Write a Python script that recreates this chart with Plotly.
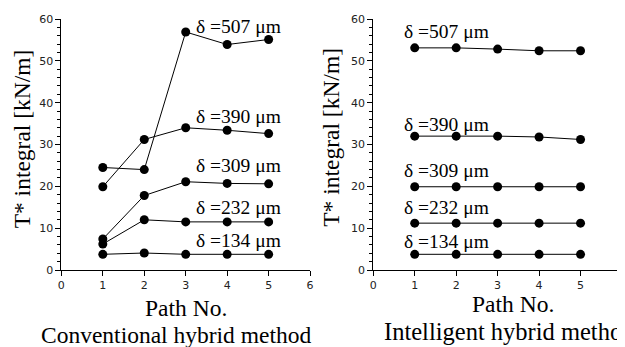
import plotly.graph_objects as go

paths = [1, 2, 3, 4, 5]
deltas = ["134", "232", "309", "390", "507"]

conv_134 = [3.75, 4.06, 3.75, 3.75, 3.75]
conv_232 = [6.2, 12.0, 11.5, 11.5, 11.5]
conv_309 = [7.4, 17.8, 21.1, 20.7, 20.6]
conv_390 = [19.9, 31.2, 34.0, 33.4, 32.6]
conv_507 = [24.5, 24.0, 56.9, 53.9, 55.1]

intel_134 = [3.75, 3.75, 3.75, 3.75, 3.75]
intel_232 = [11.2, 11.2, 11.2, 11.2, 11.2]
intel_309 = [19.9, 19.9, 19.9, 19.9, 19.9]
intel_390 = [32.0, 32.0, 32.0, 31.8, 31.2]
intel_507 = [53.1, 53.1, 52.8, 52.4, 52.4]

conv_series = [conv_134, conv_232, conv_309, conv_390, conv_507]
intel_series = [intel_134, intel_232, intel_309, intel_390, intel_507]

x_ticks = [0, 1, 2, 3, 4, 5, 6]
y_ticks = [0, 10, 20, 30, 40, 50, 60]

OFF = 8  # page body margin
W, H = 625 - OFF, 347 - OFF
TOP, BOT = 19 - OFF, 270 - OFF
def px(xp):
    return (xp - OFF) / W
def py(yp):
    return (BOT - (yp - OFF)) / (BOT - TOP)

serif = "Liberation Serif"
sans = "DejaVu Sans"

fig = go.Figure()
for s in conv_series:
    fig.add_trace(go.Scatter(x=paths, y=s, mode="lines+markers", xaxis="x", yaxis="y",
                             line=dict(color="black", width=1),
                             marker=dict(color="black", size=9), showlegend=False))
for s in intel_series:
    fig.add_trace(go.Scatter(x=paths, y=s, mode="lines+markers", xaxis="x2", yaxis="y2",
                             line=dict(color="black", width=1),
                             marker=dict(color="black", size=9), showlegend=False))

xcommon = dict(showgrid=False, zeroline=False, showline=True, linecolor="black", linewidth=1,
               ticks="outside", ticklen=5, tickwidth=1, tickcolor="black",
               tickvals=x_ticks, ticktext=[str(v) for v in x_ticks],
               tickfont=dict(family=sans, size=11, color="#222"))
ycommon = dict(showgrid=False, zeroline=False, showline=True, linecolor="black", linewidth=1,
               ticks="outside", ticklen=5, tickwidth=1, tickcolor="black",
               tickvals=y_ticks, ticktext=[str(v) for v in y_ticks], range=[0, 60],
               minor=dict(dtick=2, ticks="outside", ticklen=3, tickcolor="black", tickwidth=1),
               tickfont=dict(family=sans, size=11, color="#222"))

fig.update_layout(
    width=W, height=H, margin=dict(l=0, r=0, t=TOP, b=H - BOT),
    paper_bgcolor="white", plot_bgcolor="white",
    xaxis=dict(domain=[px(58), px(310)], range=[0, 6], anchor="y", **xcommon),
    yaxis=dict(domain=[0, 1], anchor="x", **ycommon),
    xaxis2=dict(domain=[px(374), 1], range=[0, (625 - 374) / 42.0], anchor="y2", **xcommon),
    yaxis2=dict(domain=[0, 1], anchor="x2", **ycommon),
)

ann = []
lab_left = [(3.21, 7.0), (3.21, 14.9), (3.21, 24.9), (3.21, 36.6), (3.21, 58.2)]
lab_right = [(0.70, 6.9), (0.70, 14.9), (0.70, 23.9), (0.70, 34.9), (0.70, 57.1)]
lfont = dict(family=serif, size=19.5, color="black")
for d, (lx, ly) in zip(deltas, lab_left):
    ann.append(dict(x=lx, y=ly, xref="x", yref="y", text=f"δ ={d} μm", showarrow=False,
                    xanchor="left", yanchor="middle", font=lfont))
for d, (lx, ly) in zip(deltas, lab_right):
    ann.append(dict(x=lx, y=ly, xref="x2", yref="y2", text=f"δ ={d} μm", showarrow=False,
                    xanchor="left", yanchor="middle", font=lfont))

tfont = dict(family=serif, size=23.5, color="black")
ann += [
    dict(x=px(18), y=py(138.5), xref="paper", yref="paper", text="T* integral [kN/m]", textangle=-90,
         showarrow=False, xanchor="center", yanchor="middle", font=tfont),
    dict(x=px(331), y=py(137), xref="paper", yref="paper", text="T* integral [kN/m]", textangle=-90,
         showarrow=False, xanchor="center", yanchor="middle", font=tfont),
    dict(x=px(184), y=py(308), xref="paper", yref="paper", text="Path No.",
         showarrow=False, xanchor="center", yanchor="middle", font=tfont),
    dict(x=px(516), y=py(304), xref="paper", yref="paper", text="Path No.",
         showarrow=False, xanchor="center", yanchor="middle", font=tfont),
    dict(x=px(174), y=py(335), xref="paper", yref="paper", text="Conventional hybrid method",
         showarrow=False, xanchor="center", yanchor="middle", font=tfont),
    dict(x=px(383), y=py(331), xref="paper", yref="paper", text="Intelligent hybrid method",
         showarrow=False, xanchor="left", yanchor="middle", font=dict(family=serif, size=24.5, color="black")),
]
fig.update_layout(annotations=ann)

fig.write_html("out.html")
